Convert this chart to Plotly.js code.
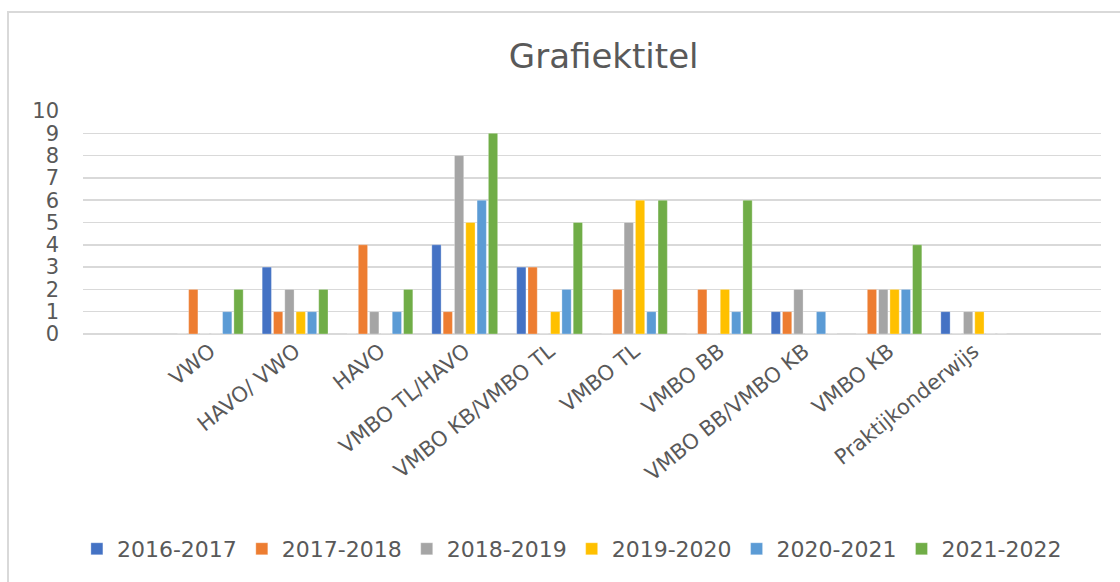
<!DOCTYPE html>
<html>
<head>
<meta charset="utf-8">
<script src="https://cdn.plot.ly/plotly-3.0.1.min.js"></script>
<style>html,body{margin:0;padding:0;background:#fff;}#chart{width:1120px;height:582px;}</style>
</head>
<body>
<div id="chart"></div>
<script>
const categories = ["VWO", "HAVO/ VWO", "HAVO", "VMBO TL/HAVO", "VMBO KB/VMBO TL", "VMBO TL", "VMBO BB", "VMBO BB/VMBO KB", "VMBO KB", "Praktijkonderwijs"];
const seriesNames = ["2016-2017", "2017-2018", "2018-2019", "2019-2020", "2020-2021", "2021-2022"];
const s2016_2017 = [0, 3, 0, 4, 3, 0, 0, 1, 0, 1];
const s2017_2018 = [2, 1, 4, 1, 3, 2, 2, 1, 2, 0];
const s2018_2019 = [0, 2, 1, 8, 0, 5, 0, 2, 2, 1];
const s2019_2020 = [0, 1, 0, 5, 1, 6, 2, 0, 2, 1];
const s2020_2021 = [1, 1, 1, 6, 2, 1, 1, 1, 2, 0];
const s2021_2022 = [2, 2, 2, 9, 5, 6, 6, 0, 4, 0];
const seriesValues = [s2016_2017, s2017_2018, s2018_2019, s2019_2020, s2020_2021, s2021_2022];
const colors = ["#4472C4", "#ED7D31", "#A5A5A5", "#FFC000", "#5B9BD5", "#70AD47"];
const yTicks = [0, 1, 2, 3, 4, 5, 6, 7, 8, 9, 10];

const FONT = "DejaVu Sans, sans-serif";
const GRAY = "#595959";

const traces = seriesNames.map((name, i) => ({
  type: "bar",
  name: name,
  x: categories,
  y: seriesValues[i],
  marker: {color: colors[i], line: {color: "rgba(255,255,255,0.6)", width: 0.5}},
  hoverinfo: "x+y+name"
}));

const layout = {
  width: 1120,
  height: 582,
  margin: {l: 83, r: 19, t: 111, b: 248},
  paper_bgcolor: "#ffffff",
  plot_bgcolor: "#ffffff",
  barmode: "group",
  bargap: 0.2,
  bargroupgap: 0.18,
  title: {
    text: "Grafiektitel",
    font: {family: FONT, size: 34, color: GRAY},
    x: 0.539, xanchor: "center",
    y: 0.904, yanchor: "middle"
  },
  xaxis: {
    type: "category",
    range: [-1.5, 10.5],
    tickangle: -39,
    tickfont: {family: FONT, size: 21, color: GRAY},
    showgrid: false,
    showline: false,
    zeroline: false,
    ticks: "",
    fixedrange: true
  },
  yaxis: {
    range: [0, 10],
    tickvals: yTicks,
    ticktext: yTicks.map(String),
    tickfont: {family: FONT, size: 21, color: GRAY},
    showgrid: true,
    gridcolor: "#d9d9d9",
    gridwidth: 1.5,
    zeroline: true,
    zerolinecolor: "#d9d9d9",
    zerolinewidth: 1.5,
    showline: false,
    ticks: "",
    ticklabelstandoff: 23,
    fixedrange: true
  },
  showlegend: true,
  legend: {
    orientation: "h",
    x: -0.006, xanchor: "left",
    y: -0.964, yanchor: "middle",
    font: {family: FONT, size: 22, color: GRAY},
    traceorder: "normal",
    itemclick: false
  },
  shapes: [{
    type: "rect", xref: "paper", yref: "paper",
    x0: (8 - 83) / 1018, x1: 1.2,
    y0: -1.5, y1: (334 - 12) / 223,
    line: {color: "#d9d9d9", width: 2},
    fillcolor: "rgba(0,0,0,0)",
    layer: "below"
  }]
};

Plotly.newPlot("chart", traces, layout, {displayModeBar: false, staticPlot: true});
</script>
</body>
</html>
